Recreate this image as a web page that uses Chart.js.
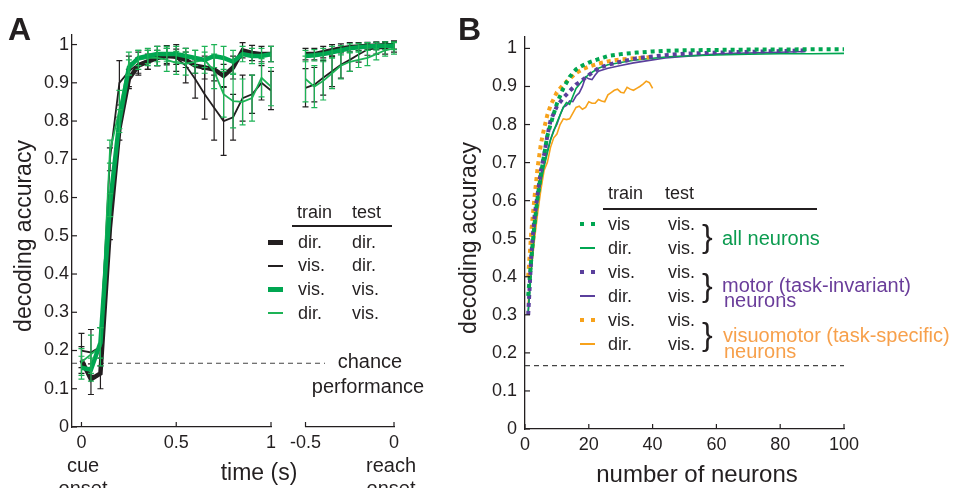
<!DOCTYPE html>
<html>
<head>
<meta charset="utf-8">
<script src="https://cdn.jsdelivr.net/npm/chart.js@4.4.0/dist/chart.umd.min.js"></script>
<style>
  body { margin:0; width:955px; height:488px; background:#fff; position:relative; overflow:hidden;
         font-family:"Liberation Sans", Arial, sans-serif; color:#231f20; }
  canvas { position:absolute; top:0; }
  .t { position:absolute; white-space:nowrap; line-height:1; }
  .m { position:absolute; }
</style>
</head>
<body>
<canvas id="a1" width="340" height="488" style="left:0"></canvas>
<canvas id="a2" width="125" height="488" style="left:285px"></canvas>
<canvas id="b" width="515" height="488" style="left:440px"></canvas>

<script>
// ---- panel A data: cue aligned (0..1 s) and reach aligned (-0.5..0 s)
const tCue = [0,0.05,0.1,0.15,0.2,0.25,0.3,0.35,0.4,0.45,0.5,0.55,0.6,0.65,0.7,0.75,0.8,0.85,0.9,0.95,1];
const cueDirDir = [0.175,0.125,0.14,0.52,0.78,0.91,0.945,0.955,0.965,0.97,0.968,0.96,0.945,0.94,0.935,0.918,0.94,0.985,0.978,0.975,0.975];
const cueVisDir = [0.20,0.195,0.21,0.70,0.90,0.93,0.95,0.96,0.97,0.972,0.965,0.945,0.91,0.87,0.835,0.80,0.81,0.86,0.87,0.90,0.88];
const cueVisVis = [0.155,0.15,0.22,0.58,0.80,0.94,0.965,0.97,0.975,0.975,0.975,0.97,0.965,0.96,0.97,0.965,0.955,0.975,0.97,0.97,0.975];
const cueDirVis = [0.17,0.19,0.21,0.72,0.83,0.95,0.96,0.965,0.965,0.96,0.952,0.95,0.955,0.96,0.93,0.87,0.852,0.85,0.86,0.913,0.89];
const cueDirDirErr = [0.035,0.04,0.04,0.03,0.03,0.025,0.02,0.02,0.02,0.02,0.02,0.02,0.02,0.03,0.03,0.03,0.03,0.02,0.02,0.02,0.02];
const cueVisDirErr = [0.045,0.06,0.05,0.03,0.058,0.04,0.03,0.025,0.025,0.025,0.035,0.045,0.05,0.065,0.085,0.09,0.06,0.06,0.05,0.045,0.05];
const cueVisVisErr = [0.03,0.03,0.04,0.03,0.03,0.02,0.02,0.02,0.02,0.02,0.02,0.02,0.02,0.02,0.03,0.03,0.03,0.02,0.02,0.02,0.02];
const cueDirVisErr = [0.035,0.05,0.05,0.03,0.05,0.03,0.025,0.02,0.02,0.03,0.03,0.03,0.03,0.035,0.045,0.06,0.07,0.06,0.06,0.05,0.05];

const tReach = [-0.5,-0.45,-0.4,-0.35,-0.3,-0.25,-0.2,-0.15,-0.1,-0.05,0];
const reachDirDir = [0.975,0.975,0.98,0.985,0.99,0.993,0.995,0.996,0.997,0.998,0.998];
const reachVisDir = [0.887,0.895,0.913,0.93,0.947,0.96,0.974,0.987,0.99,0.99,0.995];
const reachVisVis = [0.97,0.972,0.975,0.98,0.985,0.99,0.993,0.995,0.996,0.997,0.997];
const reachDirVis = [0.91,0.89,0.905,0.925,0.945,0.955,0.96,0.965,0.975,0.985,0.99];
const reachThickErr = [0.015,0.015,0.015,0.015,0.012,0.012,0.01,0.01,0.01,0.01,0.01];
const reachVisDirErr = [0.05,0.045,0.045,0.04,0.035,0.03,0.02,0.015,0.015,0.015,0.015];
const reachDirVisErr = [0.06,0.055,0.05,0.04,0.035,0.025,0.02,0.02,0.015,0.015,0.015];

const chance = 1/6;
const chanceSpanA = [-0.05, 1.285];
const chanceSpanB = [0, 100];

// ---- panel B data: accuracy vs number of neurons
const nAllVis = [1,2,3,4,5,6,7,8,10,12,14,16,18,20,23,26,30,35,40,45,50,60,70,80,90,100];
const allVisVis = [0.35,0.45,0.54,0.61,0.67,0.72,0.77,0.80,0.855,0.895,0.925,0.945,0.955,0.963,0.972,0.98,0.985,0.989,0.992,0.994,0.995,0.996,0.997,0.997,0.998,0.998];
const nAllDir = [1,2,3,4,5,6,7,8,10,12,13,14,16,18,20,23,26,30,35,40,45,50,60,70,80,90,100];
const allDirVis = [0.31,0.42,0.52,0.60,0.65,0.69,0.725,0.76,0.805,0.845,0.858,0.853,0.895,0.915,0.932,0.948,0.957,0.963,0.97,0.974,0.978,0.98,0.983,0.985,0.986,0.986,0.987];
const nMotorVis = [1,2,3,4,5,6,7,8,10,12,14,16,18,20,23,26,30,35,40,45,50,60,70,80,88];
const motorVisVis = [0.30,0.46,0.56,0.62,0.68,0.72,0.77,0.81,0.848,0.87,0.888,0.905,0.917,0.93,0.948,0.957,0.965,0.974,0.979,0.983,0.986,0.989,0.991,0.993,0.995];
const nMotorDir = [1,2,3,4,5,6,7,8,9,10,11,12,13,14,15,16,17,18,19,20,21,22,23,26,30,34,40,44,50,60,65,70,80,88];
const motorDirVis = [0.30,0.44,0.55,0.63,0.67,0.695,0.73,0.76,0.785,0.80,0.825,0.845,0.85,0.862,0.86,0.875,0.883,0.90,0.925,0.92,0.918,0.93,0.94,0.948,0.955,0.962,0.97,0.975,0.979,0.985,0.987,0.988,0.99,0.992];
const nVmVis = [1,2,3,4,5,6,7,8,10,12,14,16,18,20,23,26,30,34,38,39];
const vmVisVis = [0.40,0.52,0.61,0.69,0.75,0.79,0.825,0.85,0.885,0.905,0.92,0.935,0.945,0.952,0.96,0.966,0.971,0.974,0.976,0.977];
const nVmDir = [1,2,3,4,5,6,7,8,9,10,11,12,13,14,15,16,17,18,19,20,21,22,23,24,25,26,27,28,29,30,31,32,33,34,35,36,37,38,39,40];
const vmDirVis = [0.33,0.42,0.50,0.57,0.63,0.68,0.70,0.74,0.765,0.775,0.80,0.815,0.813,0.815,0.83,0.845,0.848,0.84,0.845,0.86,0.856,0.856,0.866,0.862,0.86,0.878,0.884,0.89,0.893,0.885,0.883,0.898,0.893,0.89,0.895,0.90,0.906,0.914,0.91,0.895];

const yTicks = [0,0.1,0.2,0.3,0.4,0.5,0.6,0.7,0.8,0.9,1];
const xTicksCue = [0,0.5,1];
const xTicksReach = [-0.5,0];
const xTicksB = [0,20,40,60,80,100];

const INK = '#231f20', GREEN = '#00a651', GREEN2 = '#1db356', PURPLE = '#5a3f9c', ORANGE = '#f7a21b';

Chart.defaults.font.family = '"Liberation Sans", Arial, sans-serif';
Chart.defaults.color = INK;

function pts(xs, ys) { return xs.map((x, i) => ({x: x, y: ys[i]})); }

// error bars drawn right after each series, through its own scales
const errorBars = {
  id: 'errorBars',
  afterDatasetDraw(chart, args) {
    const ds = chart.data.datasets[args.index];
    if (!ds.errs) return;
    const ctx = chart.ctx, ys = chart.scales.y;
    ctx.save();
    ctx.strokeStyle = ds.errColor; ctx.lineWidth = 1.2;
    args.meta.data.forEach((p, i) => {
      const v = ds.data[i].y, e = ds.errs[i];
      const y1 = ys.getPixelForValue(v + e), y2 = ys.getPixelForValue(v - e);
      ctx.beginPath();
      ctx.moveTo(p.x, y1); ctx.lineTo(p.x, y2);
      ctx.moveTo(p.x - 3, y1); ctx.lineTo(p.x + 3, y1);
      ctx.moveTo(p.x - 3, y2); ctx.lineTo(p.x + 3, y2);
      ctx.stroke();
    });
    ctx.restore();
  }
};

// inward tick marks, matlab style
const inTicks = {
  id: 'inTicks',
  afterDraw(chart) {
    const ctx = chart.ctx;
    ctx.save();
    ctx.strokeStyle = INK; ctx.lineWidth = 1.2;
    ['x', 'y'].forEach(id => {
      const s = chart.scales[id];
      if (!s || !s.options.display) return;
      s.ticks.forEach(t => {
        const p = s.getPixelForValue(t.value);
        ctx.beginPath();
        if (id === 'x') { ctx.moveTo(p, s.top); ctx.lineTo(p, s.top - 5); }
        else { ctx.moveTo(s.right, p); ctx.lineTo(s.right + 5, p); }
        ctx.stroke();
      });
    });
    ctx.restore();
  }
};

function fmt(v) { return (v === 0 || v === 1) ? String(v) : String(+v.toFixed(1)); }

function axes(o) {
  return {
    x: {
      type: 'linear', min: o.xmin, max: o.xmax,
      afterBuildTicks: s => { s.ticks = o.xt.map(v => ({value: v})); },
      afterFit: s => { s.height = o.xh; },
      grid: {display: false, drawTicks: false},
      border: {display: true, color: INK, width: 1.3},
      ticks: {font: {size: 18}, padding: 5, color: INK, maxRotation: 0, callback: v => String(v)}
    },
    y: {
      min: 0, max: o.ymax, display: o.ydisp,
      afterBuildTicks: s => { s.ticks = yTicks.map(v => ({value: v})); },
      afterFit: s => { s.width = o.yw; },
      grid: {display: false, drawTicks: false},
      border: {display: true, color: INK, width: 1.3},
      ticks: {font: {size: 18}, padding: o.ypad, color: INK, callback: fmt}
    }
  };
}

function line(data, color, width, extra) {
  return Object.assign({type: 'line', data: data, borderColor: color, borderWidth: width,
    pointRadius: 0, tension: 0, fill: false}, extra || {});
}

const base = {
  responsive: false, animation: false, devicePixelRatio: 1,
  plugins: {legend: {display: false}, tooltip: {enabled: false}}
};

new Chart(document.getElementById('a1'), {
  type: 'line',
  data: {datasets: [
    line(pts(tCue, cueVisVis), GREEN, 4.5, {errs: cueVisVisErr, errColor: GREEN2}),
    line(pts(tCue, cueDirVis), GREEN2, 1.8, {errs: cueDirVisErr, errColor: GREEN2}),
    line(pts(tCue, cueVisDir), INK, 1.8, {errs: cueVisDirErr, errColor: INK}),
    line(pts(tCue, cueDirDir), INK, 4.5, {errs: cueDirDirErr, errColor: INK}),
    line(pts(chanceSpanA, [chance, chance]), '#444', 1.2, {borderDash: [5, 4], clip: false})
  ]},
  options: Object.assign({}, base, {
    layout: {padding: {left: 0, top: 35, right: 69, bottom: 0}},
    scales: axes({xmin: -0.05, xmax: 1, xt: xTicksCue, xh: 61, ymax: 1.025, ydisp: true, yw: 72, ypad: 3})
  }),
  plugins: [errorBars, inTicks]
});

new Chart(document.getElementById('a2'), {
  type: 'line',
  data: {datasets: [
    line(pts(tReach, reachVisVis), GREEN, 4.5, {errs: reachThickErr, errColor: GREEN2}),
    line(pts(tReach, reachDirVis), GREEN2, 1.8, {errs: reachDirVisErr, errColor: GREEN2}),
    line(pts(tReach, reachVisDir), INK, 1.8, {errs: reachVisDirErr, errColor: INK}),
    line(pts(tReach, reachDirDir), INK, 4.5, {errs: reachThickErr, errColor: INK})
  ]},
  options: Object.assign({}, base, {
    layout: {padding: {left: 14, top: 35, right: 16, bottom: 0}},
    scales: axes({xmin: -0.5, xmax: 0, xt: xTicksReach, xh: 61, ymax: 1.025, ydisp: false, yw: 0, ypad: 3})
  }),
  plugins: [errorBars, inTicks]
});

const dots = {borderDash: [4, 4], borderCapStyle: 'butt'};
new Chart(document.getElementById('b'), {
  type: 'line',
  data: {datasets: [
    line(pts(nAllVis, allVisVis), GREEN, 4, dots),
    line(pts(nMotorVis, motorVisVis), PURPLE, 4, dots),
    line(pts(nVmVis, vmVisVis), ORANGE, 4, dots),
    line(pts(nAllDir, allDirVis), GREEN, 1.6),
    line(pts(nMotorDir, motorDirVis), PURPLE, 1.6),
    line(pts(nVmDir, vmDirVis), ORANGE, 1.6),
    line(pts(chanceSpanB, [chance, chance]), '#444', 1.2, {borderDash: [5, 4]})
  ]},
  options: Object.assign({}, base, {
    layout: {padding: {left: 0, top: 37, right: 111, bottom: 0}},
    scales: axes({xmin: 0, xmax: 100, xt: xTicksB, xh: 59, ymax: 1.03, ydisp: true, yw: 85, ypad: 8})
  }),
  plugins: [inTicks]
});

// ---- text and legends
function txt(s, x, baseY, size, opt) {
  opt = opt || {};
  const d = document.createElement('div');
  d.className = 't';
  d.textContent = s;
  d.style.fontSize = size + 'px';
  d.style.left = x + 'px';
  d.style.top = (baseY - 0.8465 * size) + 'px';
  if (opt.color) d.style.color = opt.color;
  if (opt.bold) d.style.fontWeight = 'bold';
  if (opt.align === 'center') d.style.transform = 'translateX(-50%)';
  document.body.appendChild(d);
}
function vtxt(s, cx, cy, size) {
  const d = document.createElement('div');
  d.className = 't';
  d.textContent = s;
  d.style.fontSize = size + 'px';
  d.style.left = cx + 'px';
  d.style.top = cy + 'px';
  d.style.transform = 'translate(-50%,-50%) rotate(-90deg)';
  document.body.appendChild(d);
}
function mark(x, y, w, h, color) {
  const d = document.createElement('div');
  d.className = 'm';
  Object.assign(d.style, {left: x + 'px', top: (y - h / 2) + 'px', width: w + 'px', height: h + 'px', background: color});
  document.body.appendChild(d);
}
function dotMark(x, y, color) { mark(x, y, 4, 4, color); mark(x + 11, y, 4, 4, color); }

// panel A
txt('A', 8, 40, 32, {bold: true});
vtxt('decoding accuracy', 23, 236, 23);
txt('cue', 83, 472, 20, {align: 'center'});
txt('onset', 83, 495, 20, {align: 'center'});
txt('reach', 391, 472, 20, {align: 'center'});
txt('onset', 391, 495, 20, {align: 'center'});
txt('time (s)', 259, 480, 23, {align: 'center'});
txt('chance', 370, 368, 20, {align: 'center'});
txt('performance', 368, 393, 20, {align: 'center'});

txt('train', 297, 218, 18); txt('test', 352, 218, 18);
mark(292, 226, 100, 1.3, INK);
const legA = [['dir.', 'dir.', INK, 5], ['vis.', 'dir.', INK, 2], ['vis.', 'vis.', GREEN, 5], ['dir.', 'vis.', GREEN2, 2]];
legA.forEach((r, i) => {
  const yb = 248 + i * 23.7;
  mark(268, yb - 6, 15, r[3], r[2]);
  txt(r[0], 298, yb, 18); txt(r[1], 352, yb, 18);
});

// panel B
txt('B', 458, 40, 32, {bold: true});
vtxt('decoding accuracy', 468, 238, 23);
txt('number of neurons', 697, 482, 24, {align: 'center'});
txt('train', 608, 199, 18); txt('test', 665, 199, 18);
mark(603, 209, 214, 1.3, INK);
const legB = [['vis', 'vis.', GREEN, 1], ['dir.', 'vis.', GREEN, 0], ['vis.', 'vis.', PURPLE, 1],
              ['dir.', 'vis.', PURPLE, 0], ['vis.', 'vis.', ORANGE, 1], ['dir.', 'vis.', ORANGE, 0]];
legB.forEach((r, i) => {
  const yb = 230 + i * 24;
  if (r[3]) dotMark(580, yb - 6, r[2]); else mark(580, yb - 6, 15, 2, r[2]);
  txt(r[0], 608, yb, 18); txt(r[1], 668, yb, 18);
});
[236, 285, 334].forEach(c => txt('}', 702, c + 11, 32));
txt('all neurons', 722, 245, 20, {color: '#0b9b4f'});
txt('motor (task-invariant)', 722, 292, 20, {color: '#6a3d9a'});
txt('neurons', 724, 307, 20, {color: '#6a3d9a'});
txt('visuomotor (task-specific)', 723, 342, 20, {color: '#f7a04b'});
txt('neurons', 724, 358, 20, {color: '#f7a04b'});
</script>
</body>
</html>
